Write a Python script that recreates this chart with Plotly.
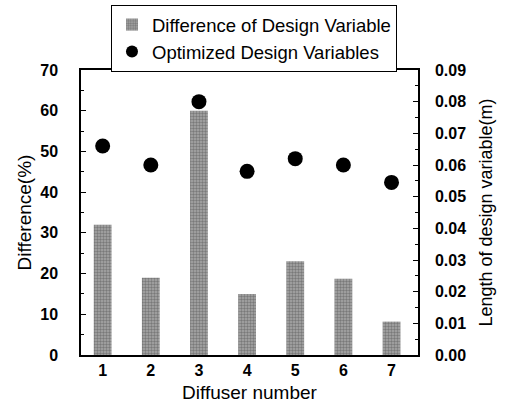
import plotly.graph_objects as go

diffusers = [1, 2, 3, 4, 5, 6, 7]
difference_pct = [32, 19, 60, 15, 23, 18.7, 8.2]
optimized_len_m = [0.066, 0.060, 0.080, 0.058, 0.062, 0.060, 0.0545]

font_family = "Liberation Sans, Arial, sans-serif"

fig = go.Figure()
fig.add_trace(go.Bar(
    x=diffusers, y=difference_pct, name="Difference of Design Variable",
    width=0.37,
    marker=dict(color="#9c9c9c", line=dict(width=0),
                pattern=dict(shape=".", fgcolor="#4a4a4a", bgcolor="#a8a8a8", size=3, solidity=0.5)),
    yaxis="y",
))
fig.add_trace(go.Scatter(
    x=diffusers, y=optimized_len_m, name="Optimized Design Variables",
    mode="markers", marker=dict(color="black", size=15),
    yaxis="y2",
))

fig.update_layout(
    width=506, height=403,
    margin=dict(l=81, r=88, t=70, b=48, autoexpand=False),
    paper_bgcolor="white", plot_bgcolor="white",
    font=dict(family=font_family, color="black", size=15),
    showlegend=True,
    legend=dict(x=0.089, y=1.228, xanchor="left", yanchor="top",
                bordercolor="black", borderwidth=1, bgcolor="white",
                font=dict(size=18.5), itemsizing="constant",
                tracegroupgap=0),
    xaxis=dict(range=[0.55, 7.55], tickmode="array", tickvals=diffusers,
               ticktext=[f"<b>{d}</b>" for d in diffusers],
               showline=True, linecolor="black", linewidth=1.5, mirror=True,
               ticks="", showgrid=False, zeroline=False,
               title=dict(text="Diffuser number", font=dict(size=19), standoff=9),
               tickfont=dict(size=16)),
    yaxis=dict(range=[0, 70], dtick=10, tickmode="linear",
               tickformat="d",
               showline=True, linecolor="black", linewidth=1.5,
               ticks="inside", ticklen=5, tickcolor="black",
               minor=dict(ticks="inside", ticklen=3, dtick=5, tickcolor="black"),
               showgrid=False, zeroline=False,
               ticklabelstandoff=18,
               title=dict(text="Difference(%)", font=dict(size=19), standoff=4),
               tickfont=dict(size=16)),
    yaxis2=dict(range=[0, 0.09], dtick=0.01, tickmode="linear", tickformat=".2f",
                overlaying="y", side="right",
                showline=True, linecolor="black", linewidth=1.5,
                ticks="inside", ticklen=5, tickcolor="black",
                minor=dict(ticks="inside", ticklen=3, dtick=0.005, tickcolor="black"),
                showgrid=False, zeroline=False,
                ticklabelstandoff=12,
                title=dict(text="Length of design variable(m)", font=dict(size=18), standoff=14),
                tickfont=dict(size=16)),
)

fig.update_yaxes(tickprefix="<b>", ticksuffix="</b>")

fig.write_html("out.html")
